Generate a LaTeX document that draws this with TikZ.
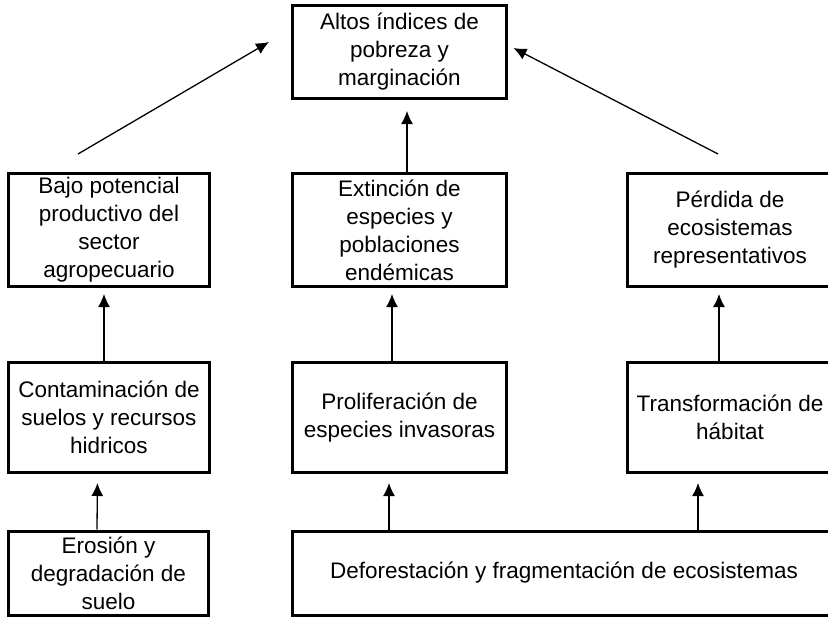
\documentclass[tikz,border=0pt]{standalone}
\usepackage{fontspec}
\setmainfont{Liberation Sans}
\usetikzlibrary{arrows.meta}
\begin{document}
\begin{tikzpicture}[x=1pt, y=-1pt, >={Latex[length=13pt,width=12pt]},
  caja/.style={draw, line width=3pt, align=center, inner sep=0pt,
    font=\fontsize{22.5}{28}\selectfont},
  flecha/.style={->, line width=1.3pt}]
\useasboundingbox (0,0) rectangle (828,618);
\clip (0,0) rectangle (828,618);

\node[caja, minimum width=214pt, minimum height=93pt] (alto) at (399.5,52) {Altos índices de\\pobreza y\\marginación};

\node[caja, minimum width=201pt, minimum height=113pt] (bajo) at (109,230) {Bajo potencial\\productivo del\\sector\\agropecuario};
\node[caja, minimum width=214pt, minimum height=113pt] (ext) at (399.5,230) {Extinción de\\especies y\\poblaciones\\endémicas};
\node[caja, minimum width=206pt, minimum height=113pt] (perd) at (730,230) {Pérdida de\\ecosistemas\\representativos};

\node[caja, minimum width=201pt, minimum height=110pt] (cont) at (109,417.5) {Contaminación de\\suelos y recursos\\hidricos};
\node[caja, minimum width=214pt, minimum height=110pt] (prol) at (399.5,417.5) {Proliferación de\\especies invasoras};
\node[caja, minimum width=206pt, minimum height=110pt] (trans) at (730,417.5) {Transformación de\\hábitat};

\node[caja, minimum width=200pt, minimum height=84pt] (eros) at (108.5,573) {Erosión y\\degradación de\\suelo};
\node[caja, minimum width=544pt, minimum height=84pt] (defo) at (564,573) {Deforestación y fragmentación de ecosistemas};

% hacia arriba
\draw[flecha] ([xshift=-31pt,yshift=18pt]bajo.north) -- ([xshift=-22pt,yshift=10pt]alto.west);
\draw[flecha, shorten >=11pt] ([xshift=7.5pt]ext.north) -- ([xshift=7.5pt]alto.south);
\draw[flecha] ([xshift=-12pt,yshift=18pt]perd.north) -- ([xshift=5.5pt,yshift=4pt]alto.east);

\draw[flecha, shorten >=6pt] ([xshift=-5pt]cont.north) -- ([xshift=-5pt]bajo.south);
\draw[flecha, shorten >=6pt] ([xshift=-7.5pt]prol.north) -- ([xshift=-7.5pt]ext.south);
\draw[flecha, shorten >=6pt] ([xshift=-11pt]trans.north) -- ([xshift=-11pt]perd.south);

\coordinate (p1) at ([xshift=-10.5pt]prol.south);
\coordinate (t1) at ([xshift=-32pt]trans.south);
\draw[flecha, shorten >=9pt] ([xshift=-11.5pt]eros.north) -- ([xshift=-11.5pt]cont.south);
\draw[flecha, shorten >=9pt] (p1 |- defo.north) -- (p1);
\draw[flecha, shorten >=9pt] (t1 |- defo.north) -- (t1);
\end{tikzpicture}
\end{document}
